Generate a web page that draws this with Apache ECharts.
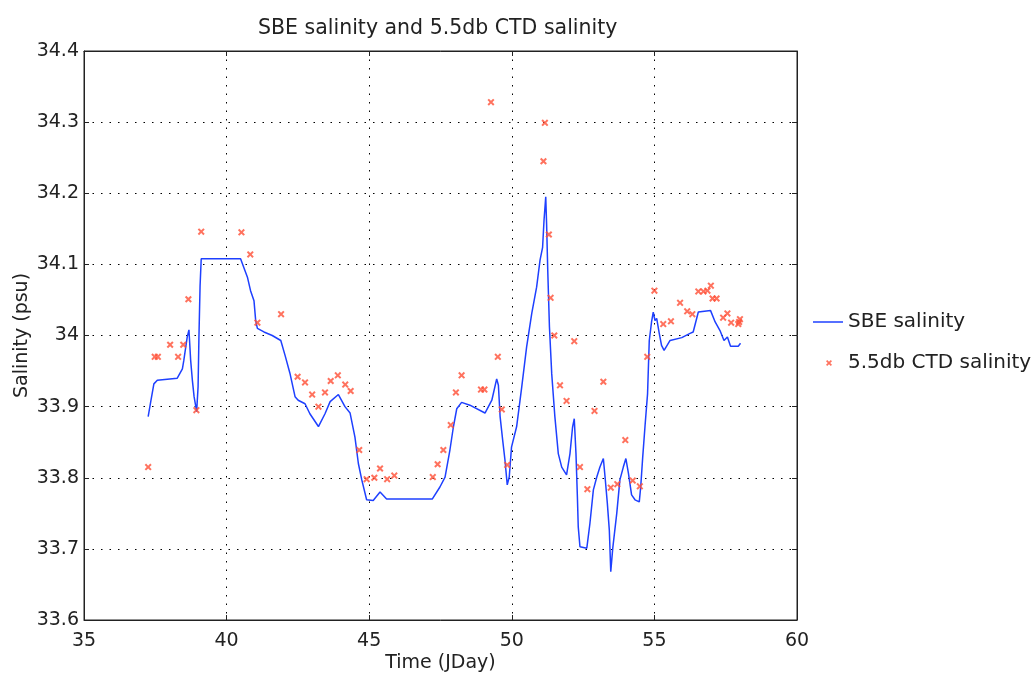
<!DOCTYPE html>
<html>
<head>
<meta charset="utf-8">
<script src="https://cdn.jsdelivr.net/npm/echarts@6/dist/echarts.min.js"></script>
<style>
  html, body { margin: 0; padding: 0; background: #fff; }
  #chart { width: 1034px; height: 673px; }
</style>
</head>
<body>
<div id="chart"></div>
<script>
// SBE salinity trace (JDay, psu)
const sbeDay = [37.25, 37.34, 37.45, 37.57, 38.27, 38.45, 38.50, 38.62, 38.68, 38.74, 38.80, 38.86, 38.95, 39.00, 39.03, 39.07, 39.11,
  40.49, 40.73, 40.84, 40.96, 41.02, 41.08, 41.31, 41.60, 41.90, 42.05, 42.22, 42.40, 42.51, 42.75, 42.92, 43.22, 43.45, 43.63,
  43.92, 44.15, 44.33, 44.50, 44.62, 44.74, 44.91, 45.14, 45.38, 45.61, 47.21, 47.48, 47.66, 47.83, 47.95, 48.07, 48.24, 48.53,
  49.06, 49.30, 49.47, 49.53, 49.59, 49.68, 49.76, 49.84, 49.91, 49.99, 50.17, 50.35, 50.52, 50.70, 50.87, 50.99, 51.08, 51.13,
  51.19, 51.22, 51.26, 51.32, 51.40, 51.51, 51.63, 51.75, 51.92, 52.04, 52.13, 52.19, 52.25, 52.30, 52.33, 52.39, 52.63, 52.74,
  52.86, 52.98, 53.09, 53.21, 53.27, 53.35, 53.42, 53.47, 53.54, 53.68, 53.79, 53.91, 54.00, 54.09, 54.20, 54.32, 54.47, 54.52,
  54.59, 54.67, 54.76, 54.82, 54.90, 54.96, 55.02, 55.08, 55.17, 55.25, 55.34, 55.55, 55.96, 56.25, 56.36, 56.54, 56.97, 57.13,
  57.30, 57.44, 57.56, 57.67, 57.94, 58.02];
const sbeSal = [33.886, 33.907, 33.932, 33.937, 33.940, 33.953, 33.965, 33.998, 34.008, 33.965, 33.937, 33.914, 33.893, 33.928, 33.998, 34.070, 34.108,
  34.108, 34.082, 34.063, 34.049, 34.021, 34.010, 34.005, 34.000, 33.993, 33.972, 33.947, 33.914, 33.909, 33.904, 33.890, 33.872, 33.890, 33.907,
  33.917, 33.900, 33.891, 33.857, 33.820, 33.797, 33.769, 33.768, 33.780, 33.770, 33.770, 33.787, 33.801, 33.839, 33.871, 33.897, 33.906, 33.902,
  33.891, 33.909, 33.939, 33.930, 33.886, 33.853, 33.825, 33.790, 33.801, 33.843, 33.872, 33.928, 33.984, 34.031, 34.068, 34.106, 34.124, 34.162,
  34.195, 34.157, 34.092, 34.012, 33.946, 33.886, 33.834, 33.815, 33.804, 33.834, 33.871, 33.883, 33.834, 33.773, 33.731, 33.703, 33.701, 33.736,
  33.783, 33.801, 33.815, 33.827, 33.801, 33.764, 33.726, 33.668, 33.701, 33.750, 33.797, 33.815, 33.827, 33.806, 33.776, 33.769, 33.766, 33.787,
  33.829, 33.872, 33.918, 33.993, 34.019, 34.033, 34.021, 34.024, 34.003, 33.986, 33.979, 33.993, 33.997, 34.003, 34.005, 34.033, 34.035, 34.019,
  34.007, 33.993, 33.998, 33.985, 33.985, 33.989];

// 5.5db CTD salinity samples
const ctdDay = [37.25, 37.48, 37.59, 38.02, 38.30, 38.48, 38.66, 38.94, 39.11, 40.52, 40.83, 41.08, 41.91, 42.49, 42.75, 43.00, 43.22,
  43.45, 43.65, 43.90, 44.16, 44.35, 44.65, 44.91, 45.18, 45.38, 45.63, 45.88, 47.23, 47.40, 47.60, 47.86, 48.04, 48.24, 48.92,
  49.04, 49.27, 49.51, 49.65, 49.84, 51.11, 51.16, 51.30, 51.36, 51.49, 51.69, 51.92, 52.19, 52.39, 52.65, 52.90, 53.21, 53.47,
  53.70, 53.98, 54.24, 54.49, 54.75, 55.00, 55.31, 55.58, 55.90, 56.15, 56.33, 56.54, 56.72, 56.86, 56.98, 57.04, 57.18, 57.41,
  57.56, 57.69, 57.94, 58.00, 57.97];
const ctdSal = [33.815, 33.970, 33.970, 33.987, 33.970, 33.987, 34.051, 33.895, 34.146, 34.145, 34.114, 34.018, 34.030, 33.942, 33.934, 33.917, 33.900,
  33.920, 33.936, 33.944, 33.931, 33.922, 33.839, 33.798, 33.800, 33.813, 33.798, 33.803, 33.801, 33.819, 33.839, 33.874, 33.920, 33.944, 33.924,
  33.924, 34.328, 33.970, 33.896, 33.818, 34.245, 34.299, 34.142, 34.053, 34.000, 33.930, 33.908, 33.992, 33.815, 33.784, 33.894, 33.935, 33.786,
  33.791, 33.853, 33.796, 33.788, 33.970, 34.063, 34.016, 34.020, 34.046, 34.034, 34.030, 34.062, 34.062, 34.063, 34.070, 34.052, 34.052, 34.025,
  34.031, 34.018, 34.016, 34.023, 34.019];

const xTicks = [35, 40, 45, 50, 55, 60];
const yTicks = [33.6, 33.7, 33.8, 33.9, 34.0, 34.1, 34.2, 34.3, 34.4];

const font = 'DejaVu Sans';
const ink = '#222';
const cross = 'path://M0,2L2,0L5,3L8,0L10,2L7,5L10,8L8,10L5,7L2,10L0,8L3,5Z';
const gridDots = { color: '#000', width: 1, type: [1.5, 7] };
const tickIn = { inside: true, length: 5, lineStyle: { color: ink } };

// matlab-style box: ticks on all four sides, labels only bottom/left
const xBase = {
  type: 'value',
  min: xTicks[0], max: xTicks[xTicks.length - 1], interval: 5,
  axisLine: { show: true, lineStyle: { color: ink, width: 1 } },
  axisTick: tickIn
};
const yBase = {
  type: 'value',
  min: yTicks[0], max: yTicks[yTicks.length - 1], interval: 0.1,
  axisLine: { show: true, lineStyle: { color: ink, width: 1 } },
  axisTick: tickIn
};

const chart = echarts.init(document.getElementById('chart'));
chart.setOption({
  animation: false,
  backgroundColor: '#fff',
  title: {
    text: 'SBE salinity and 5.5db CTD salinity',
    left: 253,
    top: 13,
    textStyle: { fontFamily: font, fontSize: 20.5, fontWeight: 'normal', color: ink }
  },
  legend: [
    {
      data: [{ name: 'SBE salinity', icon: 'path://M0,0H30V1.5H0Z' }],
      orient: 'vertical', left: 813, top: 312, padding: 0,
      itemWidth: 30, itemHeight: 14,
      textStyle: { fontFamily: font, fontSize: 20, color: ink }
    },
    {
      data: ['5.5db CTD salinity'],
      orient: 'vertical', left: 826, top: 353, padding: 0,
      itemWidth: 28, itemHeight: 6,
      textStyle: { fontFamily: font, fontSize: 20, color: ink }
    }
  ],
  grid: {
    left: 84, right: 237, top: 51, bottom: 53,
    containLabel: false, outerBoundsMode: 'none',
    show: true, borderColor: ink, borderWidth: 1, backgroundColor: '#fff'
  },
  xAxis: [
    Object.assign({}, xBase, {
      position: 'bottom',
      name: 'Time (JDay)', nameLocation: 'middle', nameGap: 34, nameMoveOverlap: false,
      nameTextStyle: { fontFamily: font, fontSize: 19, color: ink },
      axisLabel: { fontFamily: font, fontSize: 19, color: ink, margin: 12 },
      splitLine: { show: true, lineStyle: gridDots }
    }),
    Object.assign({}, xBase, {
      position: 'top',
      axisLabel: { show: false },
      splitLine: { show: false }
    })
  ],
  yAxis: [
    Object.assign({}, yBase, {
      position: 'left',
      name: 'Salinity (psu)', nameLocation: 'middle', nameGap: 52, nameMoveOverlap: false,
      nameTextStyle: { fontFamily: font, fontSize: 19, color: ink },
      axisLabel: {
        fontFamily: font, fontSize: 19, color: ink, margin: 5,
        padding: [8, 0, 0, 0],
        formatter: v => String(Number(v.toFixed(1)))
      },
      splitLine: { show: true, lineStyle: gridDots }
    }),
    Object.assign({}, yBase, {
      position: 'right',
      axisLabel: { show: false },
      splitLine: { show: false }
    })
  ],
  series: [
    {
      name: 'SBE salinity',
      type: 'line',
      symbol: 'none',
      data: sbeDay.map((d, i) => [d, sbeSal[i]]),
      lineStyle: { color: '#1e40ff', width: 1.5 },
      itemStyle: { color: '#1e40ff' },
      z: 3
    },
    {
      name: '5.5db CTD salinity',
      type: 'scatter',
      symbol: cross,
      symbolSize: 7,
      data: ctdDay.map((d, i) => [d, ctdSal[i]]),
      itemStyle: { color: '#ff4f36' },
      z: 4
    }
  ]
});
</script>
</body>
</html>
